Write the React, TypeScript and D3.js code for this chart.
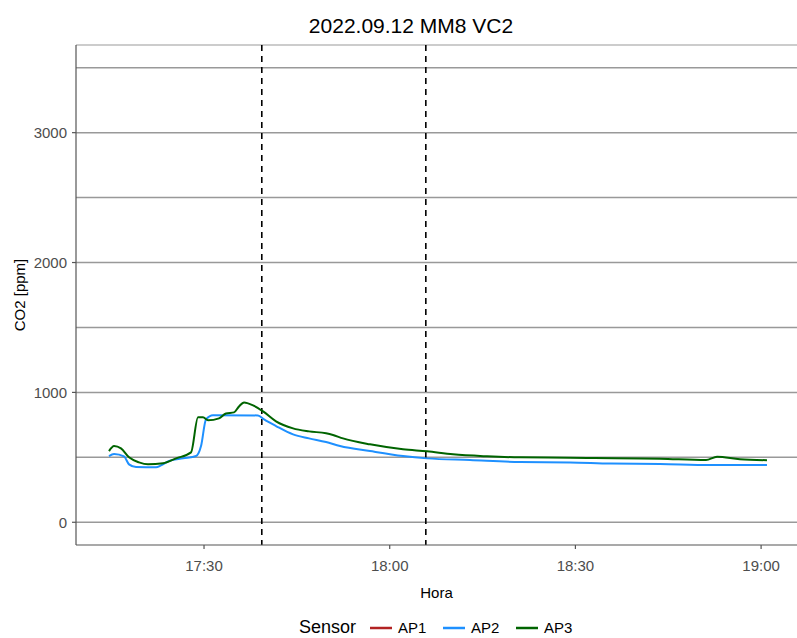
import React from 'react';
import * as d3 from 'd3';

// CO2 readings per sensor (time of day, ppm)
const ap2Times = ['17:14:39', '17:15:28', '17:17:05', '17:17:53', '17:19:01', '17:22:15', '17:23:03', '17:24:21', '17:26:37', '17:28:43', '17:29:31', '17:30:19', '17:31:27', '17:38:43', '17:39:42', '17:41:38', '17:44:23', '17:46:58', '17:49:43', '17:51:58', '17:56:49', '18:02:09', '18:06:02', '18:12:58', '18:21:03', '18:29:08', '18:35:45', '18:43:40', '18:51:44', '19:00:57'];
const ap2Values = [510, 526, 507, 446, 425, 423, 438, 472, 492, 510, 587, 792, 825, 823, 792, 741, 677, 646, 618, 587, 548, 510, 492, 479, 464, 461, 452, 449, 441, 441];

const ap3Times = ['17:14:39', '17:15:28', '17:16:35', '17:17:53', '17:19:30', '17:20:57', '17:23:23', '17:25:29', '17:27:54', '17:29:02', '17:29:50', '17:30:39', '17:32:25', '17:33:33', '17:34:51', '17:35:39', '17:36:28', '17:37:55', '17:39:32', '17:41:38', '17:44:23', '17:46:58', '17:49:43', '17:50:50', '17:52:27', '17:56:49', '18:02:09', '18:06:02', '18:10:14', '18:15:43', '18:21:03', '18:29:08', '18:43:40', '18:51:06', '18:52:53', '18:56:35', '19:00:57'];
const ap3Values = [548, 587, 569, 500, 461, 446, 454, 492, 538, 808, 808, 785, 800, 838, 846, 892, 923, 900, 854, 777, 723, 700, 685, 672, 646, 600, 562, 546, 523, 508, 500, 497, 490, 480, 505, 485, 478];

const ap1Times: string[] = [];
const ap1Values: number[] = [];

const sensorNames = ['AP1', 'AP2', 'AP3'];
const sensorColors = ['#B22222', '#1E90FF', '#006400'];

const eventTimes = ['17:39:20', '18:05:50'];
const xTickTimes = ['17:30:00', '18:00:00', '18:30:00', '19:00:00'];
const yMajorTicks = [0, 1000, 2000, 3000];
const yMinorTicks = [500, 1500, 2500, 3500];

const parse = d3.timeParse('%H:%M:%S');

const W = 797;
const H = 638;
const left = 76;
const right = 797;
const top = 45;
const bottom = 545;
const font = '"Liberation Sans", Arial, sans-serif';

const App: React.FC = () => {
  const x = d3.scaleTime()
    .domain([parse('17:09:19')!, parse('19:05:48')!])
    .range([left, right]);
  const y = d3.scaleLinear().domain([-175, 3675]).range([bottom, top]);

  const series = [
    { times: ap1Times, values: ap1Values },
    { times: ap2Times, values: ap2Values },
    { times: ap3Times, values: ap3Values },
  ];

  const line = d3.line<[Date, number]>()
    .x(d => x(d[0]))
    .y(d => y(d[1]))
    .curve(d3.curveMonotoneX);

  const fmt = d3.timeFormat('%H:%M');

  const legendY = 628;

  return (
    <div style={{ position: 'absolute', left: 0, top: 0 }}>
      <svg width={W} height={H} style={{ display: 'block', background: '#fff' }}>
        {/* grid */}
        {[...yMinorTicks, ...yMajorTicks].map(v => (
          <line key={'g' + v} x1={left} x2={right} y1={y(v)} y2={y(v)} stroke="#999" strokeWidth={1.5} />
        ))}
        <line x1={left} x2={right} y1={top} y2={top} stroke="#999" strokeWidth={1.2} />

        {/* event markers */}
        {eventTimes.map(t => (
          <line key={t} x1={x(parse(t)!)} x2={x(parse(t)!)} y1={top} y2={bottom}
            stroke="#000" strokeWidth={1.6} strokeDasharray="6,5" />
        ))}

        {/* series */}
        {series.map((s, i) => s.times.length > 0 && (
          <path key={sensorNames[i]}
            d={line(s.times.map((t, j) => [parse(t)!, s.values[j]] as [Date, number])) || ''}
            fill="none" stroke={sensorColors[i]} strokeWidth={2} strokeLinejoin="round" />
        ))}

        {/* axes */}
        <line x1={left} x2={left} y1={top} y2={bottom} stroke="#555" strokeWidth={1.2} />
        <line x1={left} x2={right} y1={bottom} y2={bottom} stroke="#555" strokeWidth={1.2} />
        {yMajorTicks.map(v => (
          <g key={'y' + v}>
            <line x1={left - 4} x2={left} y1={y(v)} y2={y(v)} stroke="#555" strokeWidth={1.2} />
            <text x={left - 9} y={y(v)} dy="0.36em" textAnchor="end" fontFamily={font} fontSize={15} fill="#4D4D4D">{v}</text>
          </g>
        ))}
        {xTickTimes.map(t => {
          const d = parse(t)!;
          return (
            <g key={t}>
              <line x1={x(d)} x2={x(d)} y1={bottom} y2={bottom + 4} stroke="#555" strokeWidth={1.2} />
              <text x={x(d)} y={571} textAnchor="middle" fontFamily={font} fontSize={15} fill="#4D4D4D">{fmt(d)}</text>
            </g>
          );
        })}

        {/* titles */}
        <text x={411} y={33} textAnchor="middle" fontFamily={font} fontSize={21} fill="#000">2022.09.12 MM8 VC2</text>
        <text x={(left + right) / 2} y={598} textAnchor="middle" fontFamily={font} fontSize={15} fill="#000">Hora</text>
        <text transform={`translate(25,${(top + bottom) / 2}) rotate(-90)`} textAnchor="middle" fontFamily={font} fontSize={15} fill="#000">CO2 [ppm]</text>

        {/* legend */}
        <text x={299} y={633} fontFamily={font} fontSize={18} fill="#000">Sensor</text>
        {sensorNames.map((n, i) => {
          const lx = 370 + i * 73;
          return (
            <g key={n}>
              <line x1={lx} x2={lx + 22} y1={legendY} y2={legendY} stroke={sensorColors[i]} strokeWidth={2.5} />
              <text x={lx + 28} y={633} fontFamily={font} fontSize={15} fill="#000">{n}</text>
            </g>
          );
        })}
      </svg>
    </div>
  );
};

export default App;
